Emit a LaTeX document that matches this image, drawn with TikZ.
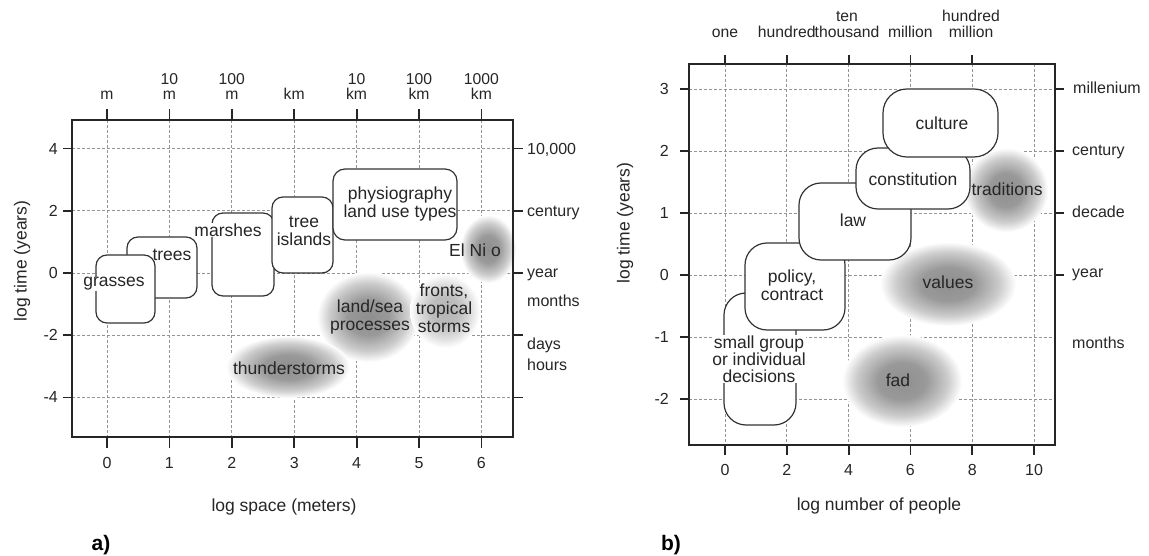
\documentclass[tikz,border=0pt]{standalone}
\usepackage{fontspec}
\setmainfont{Liberation Sans}
\pgfdeclareradialshading{blobdark}{\pgfpoint{0bp}{0bp}}{color(0bp)=(black!44); color(10bp)=(black!40); color(19bp)=(black!20); color(25bp)=(white); color(50bp)=(white)}
\pgfdeclareradialshading{bloblight}{\pgfpoint{0bp}{0bp}}{color(0bp)=(black!30); color(10bp)=(black!26); color(19bp)=(black!12); color(25bp)=(white); color(50bp)=(white)}
\begin{document}
\begin{tikzpicture}[x=1pt,y=-1pt,
  gridline/.style={draw=black!42, line width=0.7pt, dash pattern=on 3pt off 2pt},
  frameline/.style={draw=black!85, line width=2.2pt},
  tickline/.style={draw=black!85, line width=1.8pt},
  rbox/.style={draw=black!80, fill=white, line width=1.2pt},
  lab/.style={font=\fontsize{17.5}{18}\selectfont, text=black!85, align=center, inner sep=0.5pt},
  wlab/.style={lab, fill=white},
  ticklab/.style={font=\fontsize{16}{16}\selectfont, text=black!85, inner sep=0pt},
  toplab/.style={font=\fontsize{15.7}{15.5}\selectfont, text=black!85, align=center, inner sep=0pt, anchor=south},
  axtitle/.style={font=\fontsize{17.5}{18}\selectfont, text=black!85, inner sep=0pt},
  panel/.style={font=\fontsize{21}{21}\selectfont\bfseries, text=black, inner sep=0pt}]
\useasboundingbox (0,0) rectangle (1149,556);
\fill[white] (0,0) rectangle (1149,556);

% ================= panel a =================
\foreach \i in {0,...,6} \draw[gridline] ({107+62.4*\i},120) -- ({107+62.4*\i},437);
\foreach \t in {4,2,0,-2,-4} \draw[gridline] (72,{273-31.1*\t}) -- (513,{273-31.1*\t});

% soft blobs
\shade[shading=blobdark] (488,249) ellipse [x radius=28, y radius=34];
\shade[shading=blobdark] (368,317) ellipse [x radius=51, y radius=45];
\shade[shading=bloblight] (445,311) ellipse [x radius=35, y radius=37];
\shade[shading=blobdark] (288,367) ellipse [x radius=62, y radius=31];

% boxes
\draw[rbox, rounded corners=11pt] (127,237) rectangle (197,298);
\draw[rbox, rounded corners=11pt] (96,255) rectangle (155,323);
\draw[rbox, rounded corners=11pt] (212,213) rectangle (274,296);
\draw[rbox, rounded corners=11pt] (272,197) rectangle (333,273);
\draw[rbox, rounded corners=12pt] (333,169) rectangle (457,240);

% frame and ticks
\draw[frameline] (72,120) rectangle (513,437);
\foreach \i in {0,...,6} {
  \draw[tickline] ({107+62.4*\i},109) -- ({107+62.4*\i},120);
  \draw[tickline] ({107+62.4*\i},437) -- ({107+62.4*\i},448);
}
\foreach \t in {4,2,0,-2,-4} {
  \draw[tickline] (63,{273-31.1*\t}) -- (72,{273-31.1*\t});
  \draw[tickline] (513,{273-31.1*\t}) -- (523,{273-31.1*\t});
}

% labels in the plot
\node[wlab] (grasses) at (114,284) {grasses};
\node[lab] (trees) at (172,255) {trees};
\node[wlab] (marshes) at (228,230) {marshes};
\node[lab] (treeislands) at (304,231) {tree\\islands};
\node[lab] (physio) at (400,203.5) {physiography\\land use types};
\node[lab] (elnino) at (475,250) {El Ni o};
\node[lab] (landsea) at (370,317) {land/sea\\processes};
\node[lab] (fronts) at (444,308) {fronts,\\tropical\\storms};
\node[lab] (thunder) at (289,368) {thunderstorms};

% axis labels
\node[toplab] (tm0) at (107,100) {m};
\node[toplab] (tm1) at (169.4,100) {10\\m};
\node[toplab] (tm2) at (231.8,100) {100\\m};
\node[toplab] (tm3) at (294.2,100) {km};
\node[toplab] (tm4) at (356.6,100) {10\\km};
\node[toplab] (tm5) at (419,100) {100\\km};
\node[toplab] (tm6) at (481.4,100) {1000\\km};
\foreach \i in {0,...,6} \node[ticklab] (bx\i) at ({107+62.4*\i},463) {\i};
\foreach \t in {4,2,0,-2,-4} \node[ticklab, anchor=east] (ly\t) at (58,{273-31.1*\t}) {\t};
\node[ticklab, anchor=west] (ra1) at (527,150) {10,000};
\node[ticklab, anchor=west] (ra2) at (527,213) {century};
\node[ticklab, anchor=west] (ra3) at (527,275) {year};
\node[ticklab, anchor=west] (ra4) at (527,301) {months};
\node[ticklab, anchor=west] (ra5) at (527,345) {days};
\node[ticklab, anchor=west] (ra6) at (527,365) {hours};
\node[axtitle, rotate=90] (ytitleA) at (22,261) {log time (years)};
\node[axtitle] (xtitleA) at (284,507) {log space (meters)};
\node[panel] (pa) at (101,545) {a)};

% ================= panel b =================
\foreach \i in {0,...,5} \draw[gridline] ({725+61.8*\i},64) -- ({725+61.8*\i},445);
\foreach \t in {3,2,1,0,-1,-2} \draw[gridline] (689,{275-62*\t}) -- (1055,{275-62*\t});

\shade[shading=blobdark] (1006,190) ellipse [x radius=42, y radius=42];
\shade[shading=blobdark] (948,284) ellipse [x radius=68, y radius=42];
\shade[shading=blobdark] (902,381) ellipse [x radius=60, y radius=46];

\draw[rbox, rounded corners=22pt] (724,293) rectangle (796,425);
\node[wlab, font=\fontsize{17.5}{17}\selectfont] (smallgroup) at (759,359) {small group\\or individual\\decisions};
\draw[rbox, rounded corners=22pt] (745,243) rectangle (845,330);
\draw[rbox, rounded corners=22pt] (799,183) rectangle (911,260);
\draw[rbox, rounded corners=22pt] (856,148) rectangle (970,209);
\draw[rbox, rounded corners=24pt] (883,89) rectangle (998,157);

\draw[frameline] (689,64) rectangle (1055,445);
\foreach \i in {0,...,4} \draw[tickline] ({725+61.8*\i},55) -- ({725+61.8*\i},64);
\foreach \i in {0,...,5} \draw[tickline] ({725+61.8*\i},445) -- ({725+61.8*\i},455);
\foreach \t in {3,2,1,0,-1,-2} \draw[tickline] (680,{275-62*\t}) -- (689,{275-62*\t});
\foreach \t in {3,2,1,0} \draw[tickline] (1055,{275-62*\t}) -- (1064,{275-62*\t});

\node[lab] (policy) at (792,285) {policy,\\contract};
\node[lab] (law) at (853,220) {law};
\node[lab] (constitution) at (913,179) {constitution};
\node[lab] (culture) at (942,123) {culture};
\node[lab] (traditions) at (1007,189) {traditions};
\node[lab] (values) at (948,282) {values};
\node[lab] (fad) at (898,380) {fad};

\node[toplab] (tp0) at (725,37.5) {one};
\node[toplab] (tp1) at (786.8,37.5) {hundred};
\node[toplab] (tp2) at (847,37.5) {ten\\thousand};
\node[toplab] (tp3) at (910.4,37.5) {million};
\node[toplab] (tp4) at (971,37.5) {hundred\\million};
\foreach \i/\v in {0/0,1/2,2/4,3/6,4/8,5/10} \node[ticklab] (bp\i) at ({725+61.8*\i},470) {\v};
\foreach \t in {3,2,1,0,-1,-2} \node[ticklab, anchor=east] (lp\t) at (669,{275-62*\t}) {\t};
\node[ticklab, anchor=west] (rb1) at (1073,88) {millenium};
\node[ticklab, anchor=west] (rb2) at (1072,152) {century};
\node[ticklab, anchor=west] (rb3) at (1072,212) {decade};
\node[ticklab, anchor=west] (rb4) at (1072,275) {year};
\node[ticklab, anchor=west] (rb5) at (1072,343) {months};
\node[axtitle, rotate=90] (ytitleB) at (625,223) {log time (years)};
\node[axtitle] (xtitleB) at (879,506) {log number of people};
\node[panel] (pb) at (671,545) {b)};
\end{tikzpicture}
\end{document}
